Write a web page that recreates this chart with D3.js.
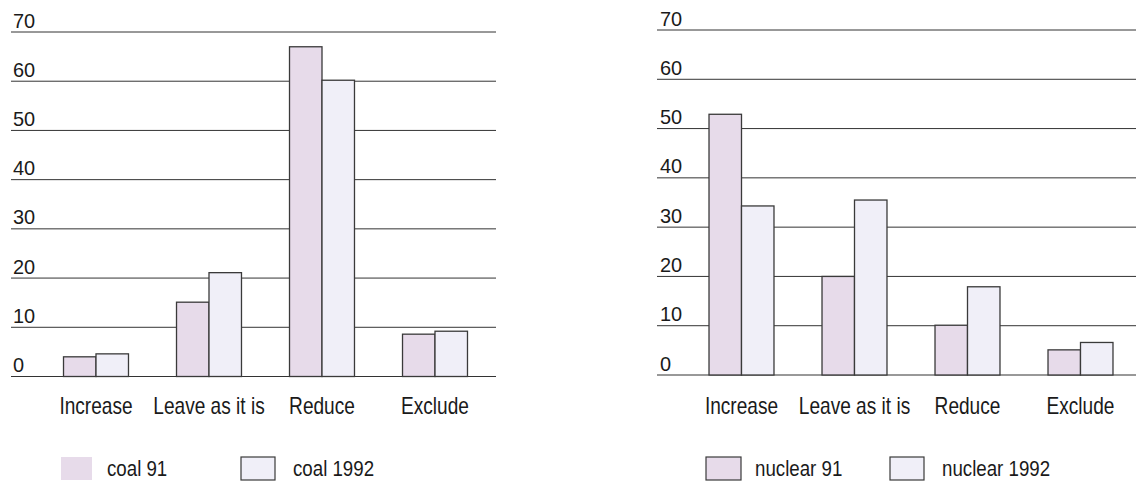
<!DOCTYPE html>
<html>
<head>
<meta charset="utf-8">
<script src="https://cdn.jsdelivr.net/npm/d3@7"></script>
<style>
  body { margin: 0; background: #fff; }
  svg text { font-family: "Liberation Sans", Arial, sans-serif; fill: #1a1a1a; }
</style>
</head>
<body>
<div id="chart"></div>
<script>
// Data
const categories = ["Increase", "Leave as it is", "Reduce", "Exclude"];
const yTicks = [0, 10, 20, 30, 40, 50, 60, 70];
const coal91 = [4.0, 15.1, 67.0, 8.6];
const coal1992 = [4.6, 21.1, 60.2, 9.2];
const nuclear91 = [52.9, 20.0, 10.1, 5.1];
const nuclear1992 = [34.3, 35.5, 17.9, 6.6];

const width = 1136;
const height = 484;

const COLORS = {
    first: "#e7dbea",
    second: "#f0eff8",
    stroke: "#3a3a3a",
    grid: "#333"
};

// no condensed font installed, so squeeze the text horizontally
const SQUEEZE = 0.83;

const svg = d3.select("#chart")
    .append("svg")
    .attr("width", width)
    .attr("height", height);

// one panel per energy source
const panels = [
    {
        series: [coal91, coal1992],
        names: ["coal 91", "coal 1992"],
        gridX: [11, 496],
        y: [376.5, 32],
        labelX: 13,
        bandRange: [39.5, 491.5],
        legend: [{ x: 61, w: 31, tx: 107, border: false }, { x: 241, w: 34, tx: 293, border: true }]
    },
    {
        series: [nuclear91, nuclear1992],
        names: ["nuclear 91", "nuclear 1992"],
        gridX: [657, 1136],
        y: [375, 30],
        labelX: 660,
        bandRange: [685, 1137],
        legend: [{ x: 706, w: 35, tx: 755, border: true }, { x: 890, w: 34, tx: 942, border: true }]
    }
];

panels.forEach(p => {
    const g = svg.append("g");

    const y = d3.scaleLinear().domain([0, 70]).range(p.y);
    const x = d3.scaleBand().domain(categories).range(p.bandRange).paddingInner(0.425).paddingOuter(0.2125);
    const xs = d3.scaleBand().domain([0, 1]).range([0, x.bandwidth()]);

    // gridlines
    g.selectAll("line.grid")
        .data(yTicks)
        .enter()
        .append("line")
        .attr("x1", p.gridX[0])
        .attr("x2", p.gridX[1])
        .attr("y1", d => y(d))
        .attr("y2", d => y(d))
        .attr("stroke", COLORS.grid)
        .attr("stroke-width", 1);

    // tick labels sit above the lines
    g.selectAll("text.tick")
        .data(yTicks)
        .enter()
        .append("text")
        .attr("transform", d => `translate(${p.labelX},${y(d) - 4.5}) scale(0.95,1)`)
        .attr("font-size", 21)
        .text(d => d);

    // bars
    p.series.forEach((s, si) => {
        g.selectAll("rect.s" + si)
            .data(s)
            .enter()
            .append("rect")
            .attr("x", (d, i) => x(categories[i]) + xs(si))
            .attr("y", d => y(d))
            .attr("width", xs.bandwidth())
            .attr("height", d => y(0) - y(d))
            .attr("fill", si === 0 ? COLORS.first : COLORS.second)
            .attr("stroke", COLORS.stroke)
            .attr("stroke-width", 1.3);
    });

    // category labels
    g.selectAll("text.cat")
        .data(categories)
        .enter()
        .append("text")
        .attr("transform", d => `translate(${x(d) + x.bandwidth() / 2},414) scale(${SQUEEZE},1)`)
        .attr("text-anchor", "middle")
        .attr("font-size", 23)
        .text(d => d);

    // legend
    p.legend.forEach((l, i) => {
        g.append("rect")
            .attr("x", l.x)
            .attr("y", 457)
            .attr("width", l.w)
            .attr("height", 23)
            .attr("fill", i === 0 ? COLORS.first : COLORS.second)
            .attr("stroke", l.border ? COLORS.stroke : "none")
            .attr("stroke-width", 1.2);
        g.append("text")
            .attr("transform", `translate(${l.tx},476) scale(0.85,1)`)
            .attr("font-size", 22)
            .text(p.names[i]);
    });
});
</script>
</body>
</html>
